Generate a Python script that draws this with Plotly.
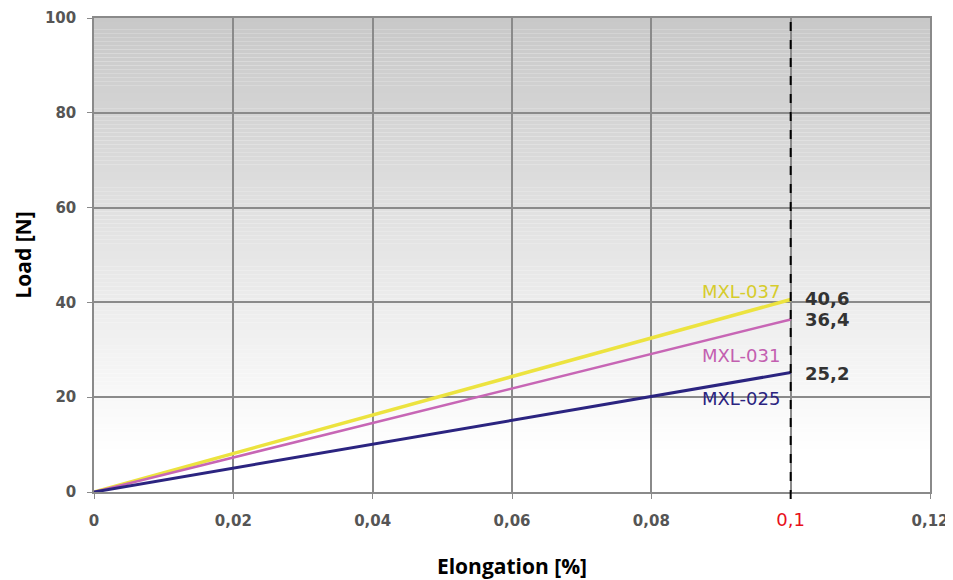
import plotly.graph_objects as go

# ---- data ----
series_names = ["MXL-037", "MXL-031", "MXL-025"]
elong = [0, 0.1]
load_037 = [0, 40.6]
load_031 = [0, 36.4]
load_025 = [0, 25.2]
end_labels = ["40,6", "36,4", "25,2"]
x_ticks = [0, 0.02, 0.04, 0.06, 0.08, 0.1, 0.12]
x_ticktext = ["0", "0,02", "0,04", "0,06", "0,08",
              "<span style='color:#e8101a;font-weight:normal;font-size:18px'>0,1</span>", "0,12"]
y_ticks = [0, 20, 40, 60, 80, 100]

colors = ["#ece33f", "#c766b5", "#2b2480"]
widths = [3.5, 2.5, 3]
loads = [load_037, load_031, load_025]

fig = go.Figure()
for name, ys, c, w in zip(series_names, loads, colors, widths):
    fig.add_trace(go.Scatter(x=elong, y=ys, mode="lines", name=name,
                             line=dict(color=c, width=w), showlegend=False))

# gradient background (shapes below gridlines)
N = 120
top = 200
for i in range(N):
    y0 = 100 * i / N
    y1 = 100 * (i + 1) / N
    t = ((y0 + y1) / 2) / 100
    t = min(1.0, max(0.0, (t - 0.08) / 0.92))
    r = int(round(255 + (top - 255) * t))
    col = f"rgb({r},{r},{r})"
    fig.add_shape(type="rect", xref="x", yref="y", x0=0, x1=0.12, y0=y0, y1=y1,
                  fillcolor=col, line=dict(width=0), layer="below")

# dashed vertical line at 0.1
fig.add_shape(type="line", xref="x", yref="paper", x0=0.1, x1=0.1, y0=-0.015, y1=1,
              line=dict(color="black", width=2, dash="dash"), layer="above")

# series name labels
label_y = [42.2, 28.9, 19.8]
label_cols = ["#d6cc2c", "#c35fb0", "#2b2480"]
for name, c, ly in zip(series_names, label_cols, label_y):
    fig.add_annotation(x=0.0988, y=ly, text=name, showarrow=False, xanchor="right",
                       font=dict(family="DejaVu Sans", size=18, color=c))

# end value labels
val_y = [40.8, 36.4, 25.1]
for txt, vy in zip(end_labels, val_y):
    fig.add_annotation(x=0.1017, y=vy, text=txt, showarrow=False, xanchor="left",
                       font=dict(family="DejaVu Sans", size=18, color="#333333", weight="bold"))

# page body has an 8px margin: figure is 945x572 placed at (8,8)
fig.update_layout(
    width=945, height=572,
    margin=dict(l=86, r=23, t=10, b=88),
    paper_bgcolor="white",
    plot_bgcolor="white",
    separators=",.",
    font=dict(family="DejaVu Sans", color="#555555"),
)
fig.update_xaxes(range=[0, 0.12], tickmode="array", tickvals=x_ticks, ticktext=x_ticktext,
                 showgrid=True, gridcolor="#8a8a8a", gridwidth=1.5,
                 showline=True, linecolor="#8a8a8a", linewidth=1.5, mirror=True,
                 ticks="outside", ticklen=5, tickcolor="#8a8a8a", ticklabelstandoff=9,
                 tickfont=dict(family="DejaVu Sans", size=15, color="#555555", weight="bold"),
                 title=dict(text="<b>Elongation [%]</b>", font=dict(family="Open Sans", size=21, color="black"), standoff=38),
                 zeroline=False, automargin=False)
fig.update_yaxes(range=[0, 100], tickmode="array", tickvals=y_ticks,
                 showgrid=True, gridcolor="#8a8a8a", gridwidth=1.5,
                 showline=True, linecolor="#8a8a8a", linewidth=1.5, mirror=True,
                 ticks="outside", ticklen=5, tickcolor="#8a8a8a", ticklabelstandoff=8,
                 tickfont=dict(family="DejaVu Sans", size=15, color="#555555", weight="bold"),
                 title=dict(text="<b>Load [N]</b>", font=dict(family="Open Sans", size=21, color="black"), standoff=8),
                 zeroline=False, automargin=False)

fig.write_html("out.html")
